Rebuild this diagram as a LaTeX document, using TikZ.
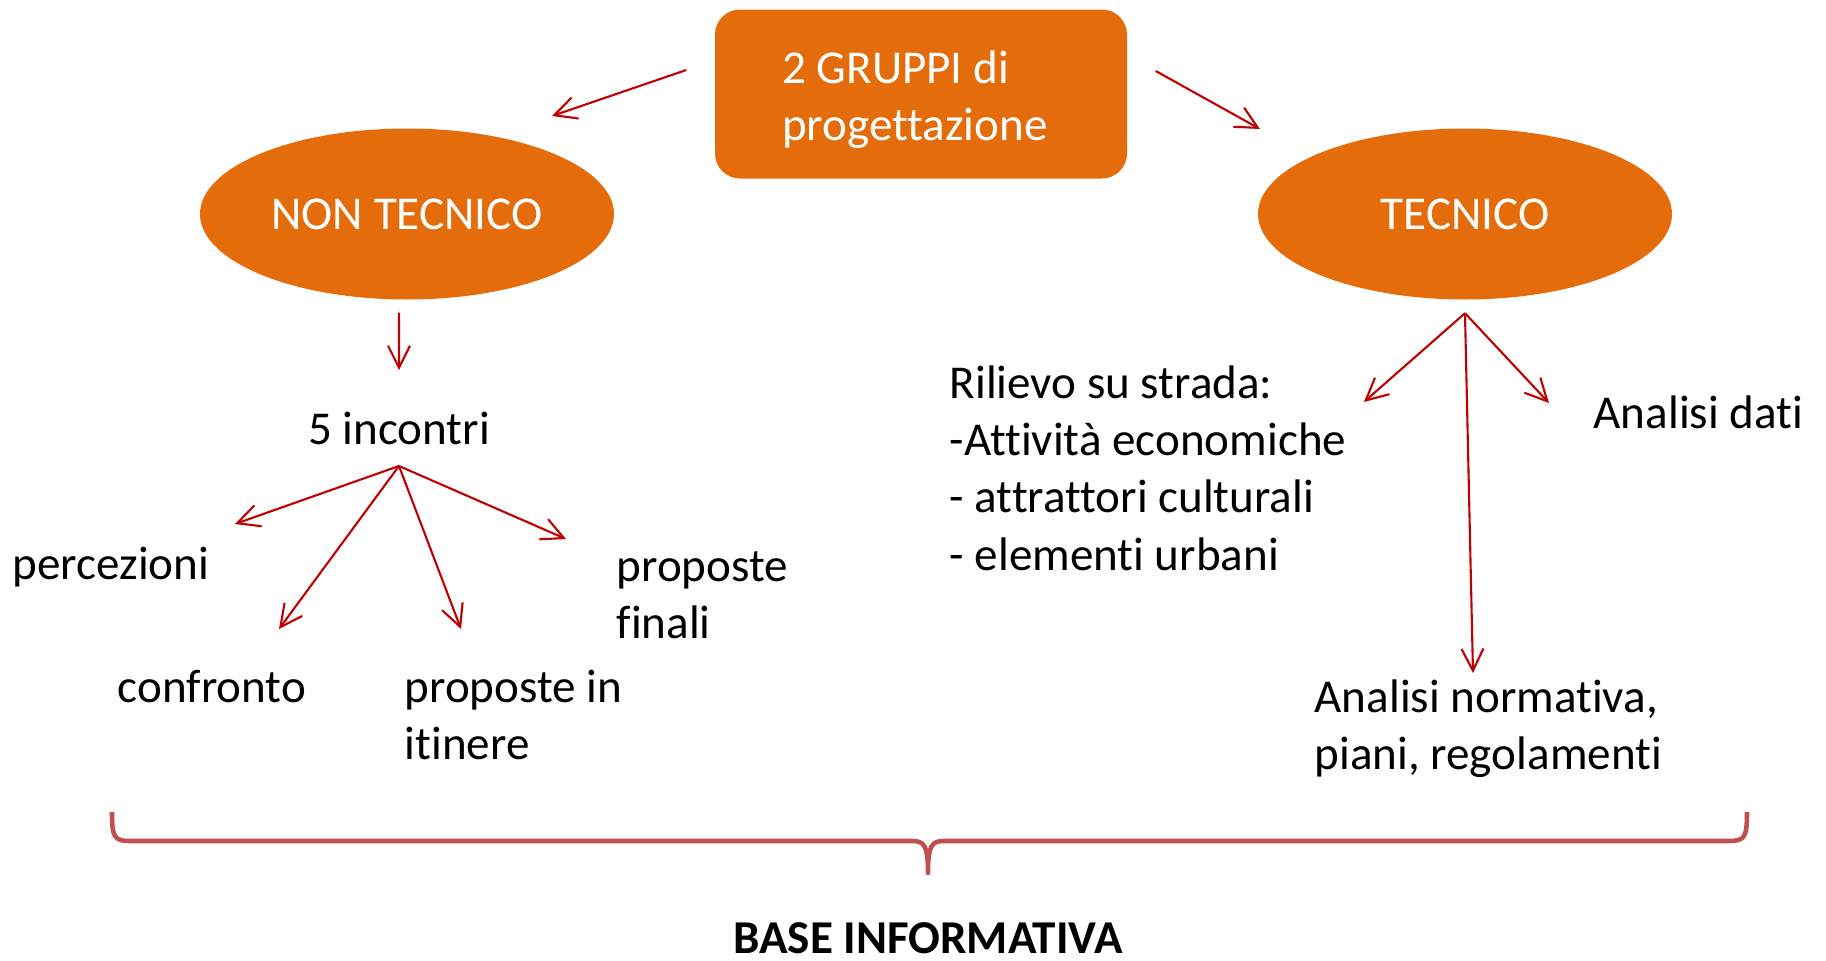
\documentclass[tikz,border=0pt]{standalone}
\usepackage{fontspec}
\setmainfont{Carlito}[Ligatures=NoCommon]
\usepackage{xcolor}
\usetikzlibrary{arrows.meta, positioning, shapes.geometric}
\definecolor{arancio}{HTML}{E46C0A}
\definecolor{rossoscuro}{HTML}{C00000}
\definecolor{rossograffa}{HTML}{C0504D}

\begin{document}
\begin{tikzpicture}[>={Straight Barb[length=2.2mm,width=2.2mm]},
  freccia/.style={->, rossoscuro, line width=0.6pt},
  testo/.style={font=\fontsize{13.4}{16.3}\selectfont, inner sep=0pt},
  gruppo/.style={testo, ellipse, fill=arancio, text=white, minimum width=4.14cm, minimum height=1.71cm}]
\useasboundingbox (0,0) rectangle (18.26,9.6);
% Nodi
\node[testo, fill=arancio, text=white, rounded corners=0.25cm, minimum width=4.12cm, minimum height=1.69cm, align=left] (grp) at (9.21,8.66) {\rule{0pt}{12.5pt}\hspace*{-1.2mm}2 GRUPPI di\\\hspace*{-1.2mm}progettazione};
\node[gruppo] (noTec) at (4.07,7.46) {NON TECNICO};
\node[gruppo] (tec) at (14.65,7.46) {TECNICO};
\node[testo] (inc) at (3.99,5.32) {5 incontri};
\node[testo] (perc) at (1.11,3.93) {percezioni};
\node[testo] (conf) at (2.12,2.73) {confronto};
\node[testo, anchor=west, align=left] (itin) at (4.04,2.45) {proposte in\\itinere};
\node[testo, anchor=west, align=left] (fin) at (6.16,3.65) {proposte\\finali};
\node[testo, anchor=west, align=left] (ril) at (9.49,4.92) {Rilievo su strada:\\-Attività economiche\\- attrattori culturali\\- elementi urbani};
\node[testo, anchor=west] (dati) at (15.93,5.48) {Analisi dati};
\node[testo, anchor=west, align=left] (norm) at (13.14,2.31) {Analisi normativa,\\piani, regolamenti};
\node[testo, font=\fontsize{13.4}{16.3}\selectfont\bfseries] (base) at (9.28,0.22) {BASE INFORMATIVA};
\coordinate (incFan) at ([yshift=-0.38cm]inc.center);
\coordinate (tecFan) at ([yshift=-0.13cm]tec.south);
% Frecce
\path[freccia]
([shift={(-0.28,0.24)}]grp.west) edge ([shift={(1.45,0.98)}]noTec.center)
([shift={(0.28,0.23)}]grp.east) edge ([shift={(-2.05,0.85)}]tec.center)
([shift={(-0.08,-0.125)}]noTec.south) edge ([yshift=0.58cm]inc.center)
(incFan) edge ([shift={(1.24,0.43)}]perc.center)
(incFan) edge ([shift={(0.67,0.58)}]conf.center)
(incFan) edge ([shift={(0.57,0.86)}]itin.west)
(incFan) edge ([shift={(-0.50,0.56)}]fin.west)
(tecFan) edge ([shift={(0.17,0.66)}]ril.east)
(tecFan) edge ([shift={(-0.44,0.09)}]dati.west)
(tecFan) edge ([shift={(1.59,0.56)}]norm.west);
% Graffa
\draw[rossograffa, line width=1.3pt, line join=round]
(1.12,1.48) .. controls (1.12,1.23) and (1.14,1.19) .. (1.30,1.19) -- (9.12,1.19)
.. controls (9.24,1.19) and (9.28,1.15) .. (9.28,0.87)
.. controls (9.28,1.15) and (9.32,1.19) .. (9.44,1.19) -- (17.29,1.19)
.. controls (17.45,1.19) and (17.47,1.23) .. (17.47,1.48);
\end{tikzpicture}
\end{document}
